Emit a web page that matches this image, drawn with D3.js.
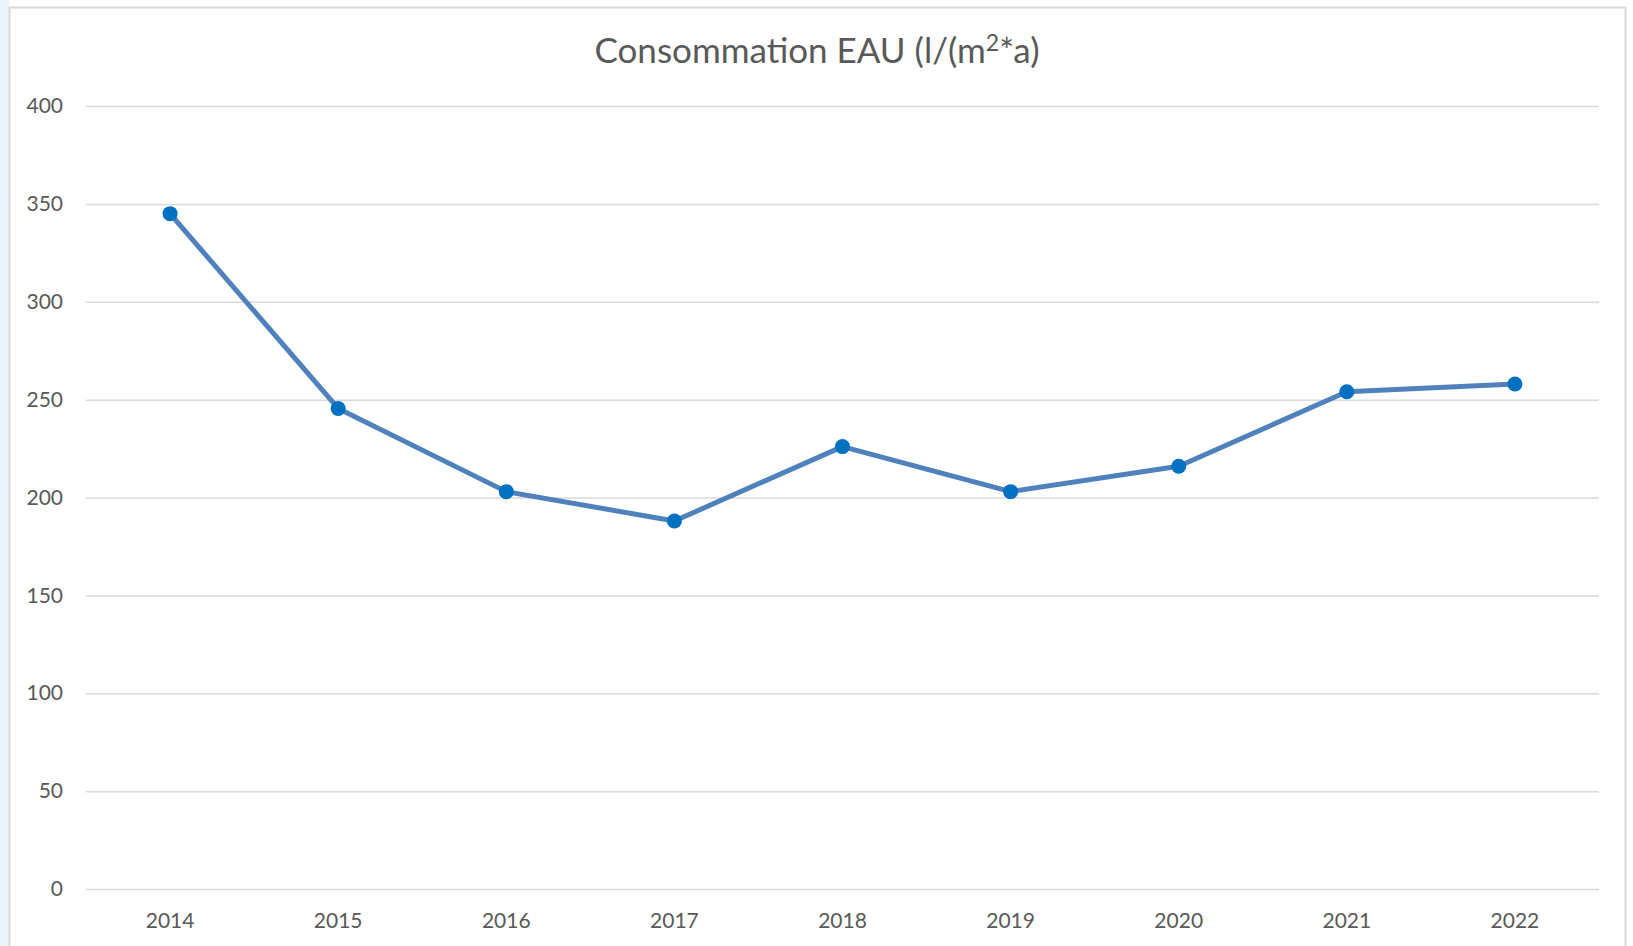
<!DOCTYPE html>
<html>
<head>
<meta charset="utf-8">
<script src="https://cdn.jsdelivr.net/npm/d3@7"></script>
<style>
  body { margin: 0; background: #fff; }
  svg text { font-family: Lato, "Open Sans", sans-serif; fill: #595959; }
</style>
</head>
<body>
<div id="chart"></div>
<script>
// values
var years = ["2014", "2015", "2016", "2017", "2018", "2019", "2020", "2021", "2022"];
var consumption = [345, 245.5, 203, 188, 226, 203, 216, 254, 258];
var yTicks = [0, 50, 100, 150, 200, 250, 300, 350, 400];
var chartTitle = "Consommation EAU (l/(m";

var W = 1633, H = 946;
var margin = {top: 106, right: 34, bottom: 57, left: 86};
var width = W - margin.left - margin.right,
    height = H - margin.top - margin.bottom;

var svg = d3.select("#chart")
    .append("svg")
    .attr("width", W)
    .attr("height", H);

// faint blue strip on the left and the chart frame
svg.append("rect")
    .attr("x", 0).attr("y", 0)
    .attr("width", 9).attr("height", H)
    .attr("fill", "#eaf4fc");
svg.append("rect")
    .attr("x", 9.5).attr("y", 7.5)
    .attr("width", 1616).attr("height", H)
    .attr("fill", "#fff")
    .attr("stroke", "#d9d9d9")
    .attr("stroke-width", 2);

var g = svg.append("g")
    .attr("transform", "translate(" + margin.left + "," + margin.top + ")");

var x = d3.scaleBand()
    .domain(years)
    .range([0, width]);

var y = d3.scaleLinear()
    .domain([0, 400])
    .range([height, 0]);

// gridlines
g.append("g")
    .call(d3.axisLeft(y).tickValues(yTicks).tickSize(-width).tickFormat(""))
    .call(function(a) {
        a.select(".domain").remove();
        a.selectAll("line").attr("stroke", "#d9d9d9").attr("stroke-width", 1.5);
    });

// y labels
g.append("g")
    .call(d3.axisLeft(y).tickValues(yTicks).tickSize(0).tickPadding(23))
    .call(function(a) {
        a.select(".domain").remove();
        a.selectAll("text").attr("font-size", 21).attr("font-family", null).attr("fill", "#595959");
    });

// x labels
g.append("g")
    .attr("transform", "translate(0," + height + ")")
    .call(d3.axisBottom(x).tickSize(0).tickPadding(24))
    .call(function(a) {
        a.select(".domain").remove();
        a.selectAll("text").attr("font-size", 21).attr("font-family", null).attr("fill", "#595959");
    });

var line = d3.line()
    .x(function(d, i) { return x(years[i]) + x.bandwidth() / 2; })
    .y(function(d) { return y(d); });

g.append("path")
    .datum(consumption)
    .attr("d", line)
    .attr("fill", "none")
    .attr("stroke", "#4f81bd")
    .attr("stroke-width", 5)
    .attr("stroke-linejoin", "round");

g.selectAll("circle")
    .data(consumption)
    .enter().append("circle")
    .attr("cx", function(d, i) { return x(years[i]) + x.bandwidth() / 2; })
    .attr("cy", function(d) { return y(d); })
    .attr("r", 7.5)
    .attr("fill", "#0070c0");

// title
var t = svg.append("text")
    .attr("x", 817)
    .attr("y", 63)
    .attr("text-anchor", "middle")
    .attr("font-size", 35);
t.append("tspan").text(chartTitle);
t.append("tspan").attr("dy", -12).attr("font-size", 23).text("2");
t.append("tspan").attr("dy", 12).text("*a)");
</script>
</body>
</html>
